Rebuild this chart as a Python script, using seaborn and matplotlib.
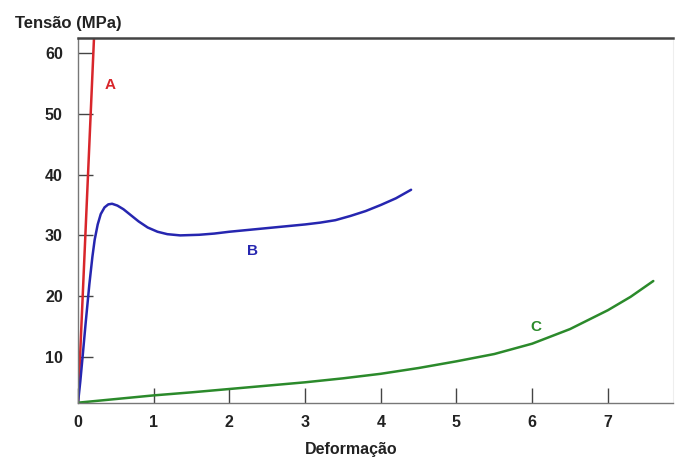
import matplotlib
matplotlib.use("Agg")
import matplotlib.pyplot as plt
import seaborn as sns
import pandas as pd

# Curve A (red, straight)
a_x = [0.0, 0.22]
a_y = [2.5, 65.0]

# Curve B (blue)
b_x = [0.0, 0.03, 0.06, 0.10, 0.15, 0.19, 0.22, 0.26, 0.30, 0.35, 0.40, 0.45, 0.52,
       0.60, 0.70, 0.80, 0.92, 1.05, 1.18, 1.35, 1.60, 1.80, 2.00, 2.25, 2.50, 2.75,
       3.00, 3.20, 3.40, 3.60, 3.80, 4.00, 4.20, 4.40]
b_y = [2.5, 6.0, 10.0, 15.5, 22.0, 26.5, 29.3, 31.8, 33.5, 34.6, 35.1, 35.2, 34.9,
       34.3, 33.3, 32.3, 31.3, 30.6, 30.2, 30.0, 30.1, 30.3, 30.6, 30.9, 31.2, 31.5,
       31.8, 32.1, 32.5, 33.2, 34.0, 35.0, 36.1, 37.5]

# Curve C (green)
c_x = [0.0, 0.5, 1.0, 1.5, 2.0, 2.5, 3.0, 3.5, 4.0, 4.5, 5.0, 5.5, 6.0, 6.5, 7.0, 7.3, 7.6]
c_y = [2.5, 3.1, 3.7, 4.2, 4.75, 5.3, 5.85, 6.5, 7.25, 8.2, 9.3, 10.5, 12.2, 14.6, 17.7, 19.9, 22.5]

x_ticks = [0, 1, 2, 3, 4, 5, 6, 7]
y_ticks = [10, 20, 30, 40, 50, 60]
labels = ["A", "B", "C"]
label_pos_x = [0.43, 2.3, 6.05]
label_pos_y = [54.7, 27.5, 15.0]

colors = ["#d8262b", "#2626b0", "#2b8a2b"]

sns.set_theme(style="white")
plt.rcParams["font.family"] = ["Liberation Sans", "DejaVu Sans"]

fig = plt.figure(figsize=(6.75, 4.59), dpi=100)
ax = fig.add_axes([0.1156, 0.1227, 0.997 - 0.1156, 0.9179 - 0.1227])

for xs, ys, col in [(a_x, a_y, colors[0]), (b_x, b_y, colors[1]), (c_x, c_y, colors[2])]:
    df = pd.DataFrame({"x": xs, "y": ys})
    sns.lineplot(data=df, x="x", y="y", ax=ax, color=col, linewidth=1.8, sort=False,
                 estimator=None)

for lab, lx, ly, col in zip(labels, label_pos_x, label_pos_y, colors):
    ax.text(lx, ly, lab, color=col, fontsize=11, fontweight="bold", ha="center", va="center")

ax.set_xlim(0, 7.86)
ax.set_ylim(2.5, 62.5)
ax.set_xticks(x_ticks)
ax.set_yticks(y_ticks)
ax.set_xticklabels([str(t) for t in x_ticks], fontsize=11.5, fontweight="bold", color="#222222")
ax.set_yticklabels([str(t) for t in y_ticks], fontsize=11.5, fontweight="bold", color="#222222")
ax.tick_params(axis="both", which="major", bottom=True, left=True, top=False, right=False,
               direction="in", length=11, width=1.0, color="#444444")
ax.tick_params(axis="y", pad=11)
ax.tick_params(axis="x", pad=9)
ax.set_xlabel("Deformação", fontsize=11.5, fontweight="bold", color="#222222")
ax.xaxis.set_label_coords(0.459, -0.127)
ax.xaxis.label.set_va("center")
ax.set_ylabel("")

ax.spines["top"].set_color("#444444")
ax.spines["top"].set_linewidth(1.8)
ax.spines["left"].set_color("#777777")
ax.spines["left"].set_linewidth(1.0)
ax.spines["bottom"].set_color("#777777")
ax.spines["bottom"].set_linewidth(1.0)
ax.spines["right"].set_color("#eeeeee")
ax.spines["right"].set_linewidth(0.8)

fig.text(0.022, 0.948, "Tensão (MPa)", fontsize=12, fontweight="bold", color="#222222",
         ha="left", va="center")

fig.savefig("out.png", dpi=100)
